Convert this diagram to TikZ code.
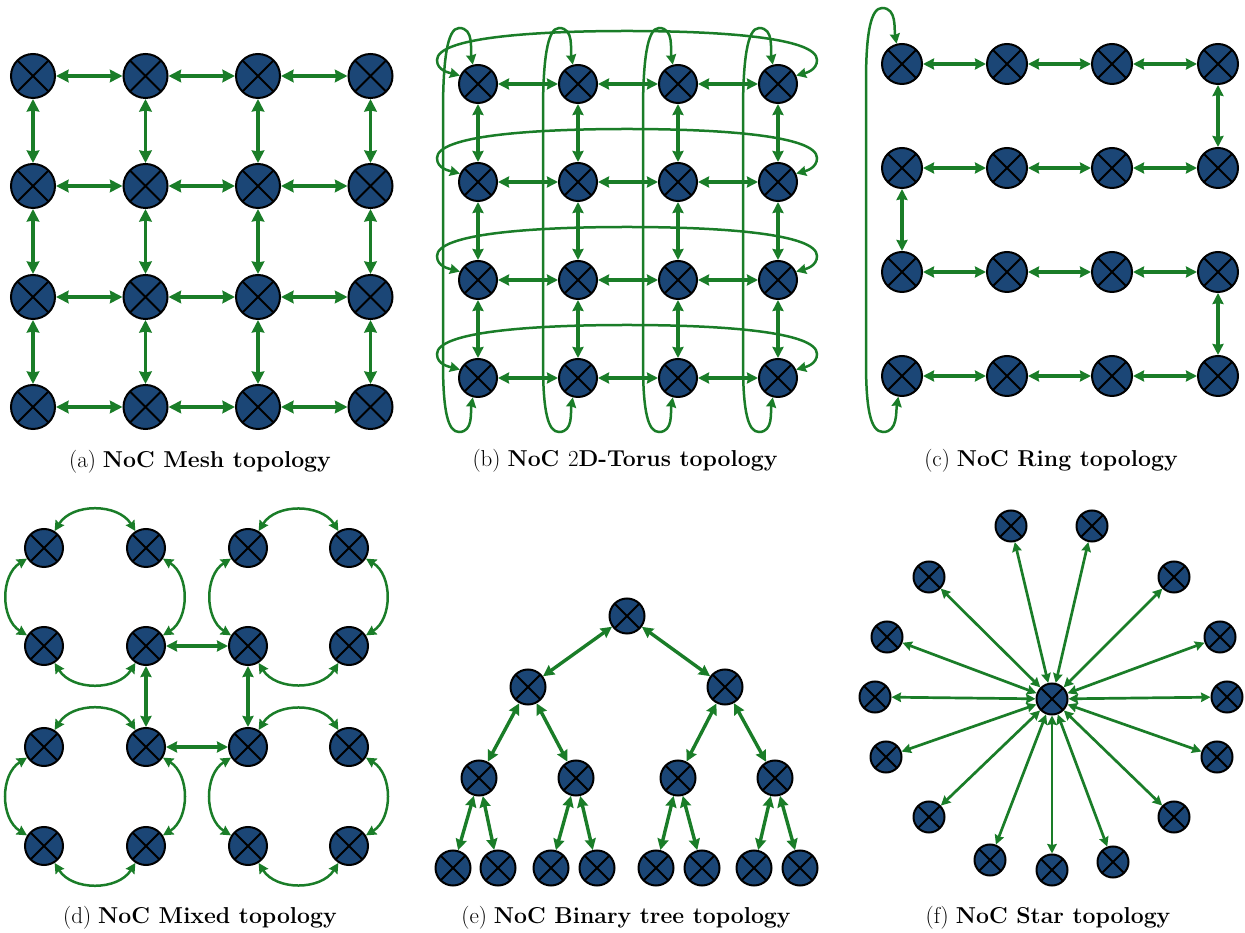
\documentclass[tikz,border=0pt]{standalone}
\usetikzlibrary{arrows.meta,calc}
\definecolor{nocblue}{RGB}{27,70,118}
\definecolor{nocgreen}{RGB}{26,125,40}
\begin{document}
\begin{tikzpicture}[x=1pt,y=1pt,
  router/.style={circle, draw=black, line width=2pt, fill=nocblue, inner sep=0pt, minimum size=#1,
    path picture={\draw[black,line width=2pt]
      (path picture bounding box.north west) -- (path picture bounding box.south east)
      (path picture bounding box.north east) -- (path picture bounding box.south west);}},
  thicklink/.style={draw=nocgreen, line width=3.8pt,
    {Stealth[length=12.5pt,width=12.5pt,inset=1pt]}-{Stealth[length=12.5pt,width=12.5pt,inset=1pt]}},
  midlink/.style={draw=nocgreen, line width=3.4pt,
    {Stealth[length=11pt,width=11pt,inset=1pt]}-{Stealth[length=11pt,width=11pt,inset=1pt]}},
  looplink/.style={draw=nocgreen, line width=2.5pt,
    {Stealth[length=10pt,width=10pt,inset=1pt]}-{Stealth[length=10pt,width=10pt,inset=1pt]}},
  starlink/.style={draw=nocgreen, line width=2.7pt,
    {Stealth[length=9.5pt,width=9.5pt,inset=1pt]}-{Stealth[length=9.5pt,width=9.5pt,inset=1pt]}},
  caption/.style={anchor=base, inner sep=0pt, font=\fontsize{23}{27}\selectfont}
]
\useasboundingbox (0,0) rectangle (1245,932);

% ---------------- (a) Mesh ----------------
\foreach \x [count=\i] in {33,145.5,258,370.5}
  \foreach \y [count=\j] in {856,746,635,525}
    \node[router=44pt] (m\j\i) at (\x,\y) {};
\foreach \j in {1,...,4}
  \foreach \i/\k in {1/2,2/3,3/4} {
    \draw[thicklink] (m\j\i) -- (m\j\k);
    \draw[thicklink] (m\i\j) -- (m\k\j);
  }
\node[caption] (capa) at (200,464) {(a) \textbf{NoC Mesh topology}};

% ---------------- (b) 2D Torus ----------------
\foreach \x [count=\i] in {478,578,678,778}
  \foreach \y [count=\j] in {848,750,652,554}
    \node[router=38pt] (t\j\i) at (\x,\y) {};
\foreach \j in {1,...,4}
  \foreach \i/\k in {1/2,2/3,3/4} {
    \draw[midlink] (t\j\i) -- (t\j\k);
    \draw[midlink] (t\i\j) -- (t\k\j);
  }
\foreach \y [count=\j] in {848,750,652,554}
  \draw[looplink] (t\j1.155) to[out=165,in=-90] (437,\y+24)
     .. controls (437,\y+46) and (530,\y+53) .. (627,\y+53)
     .. controls (724,\y+53) and (817,\y+46) .. (817,\y+24)
     to[out=-90,in=15] (t\j4.25);
\foreach \x [count=\i] in {478,578,678,778}
  \draw[looplink] (t1\i.105) to[out=100,in=0] (\x-19,904)
     .. controls (\x-31,904) and (\x-35,870) .. (\x-35,820)
     -- (\x-35,570)
     .. controls (\x-35,520) and (\x-30,500) .. (\x-19,500)
     to[out=0,in=-100] (t4\i.-105);
\node[caption] (capb) at (625,465) {(b) \textbf{NoC }2\textbf{D-Torus topology}};

% ---------------- (c) Ring ----------------
\foreach \x [count=\i] in {902,1007,1112,1218}
  \foreach \y [count=\j] in {868,764,660,556}
    \node[router=40pt] (r\j\i) at (\x,\y) {};
\foreach \j in {1,...,4}
  \foreach \i/\k in {1/2,2/3,3/4}
    \draw[midlink] (r\j\i) -- (r\j\k);
\draw[midlink] (r14) -- (r24);
\draw[midlink] (r21) -- (r31);
\draw[midlink] (r34) -- (r44);
\draw[looplink] (r41.260) to[out=-100,in=0] (883,500)
   .. controls (870,500) and (866,525) .. (866,570)
   -- (866,850)
   .. controls (866,900) and (871,924) .. (882,924)
   to[out=0,in=100] (r11.105);
\node[caption] (capc) at (1051,465) {(c) \textbf{NoC Ring topology}};

% ---------------- (d) Mixed ----------------
\foreach \x [count=\i] in {44,146,248,349}
  \foreach \y [count=\j] in {384,286,185,86}
    \node[router=38pt] (x\j\i) at (\x,\y) {};
\foreach \a/\b/\c/\d in {11/12/21/22,13/14/23/24,31/32/41/42,33/34/43/44} {
  \draw[looplink] (x\a) to[bend left=58,looseness=1.05] (x\b);
  \draw[looplink] (x\b) to[bend left=58,looseness=1.05] (x\d);
  \draw[looplink] (x\d) to[bend left=58,looseness=1.05] (x\c);
  \draw[looplink] (x\c) to[bend left=58,looseness=1.05] (x\a);
}
\draw[midlink] (x22) -- (x23);
\draw[midlink] (x32) -- (x33);
\draw[midlink] (x22) -- (x32);
\draw[midlink] (x23) -- (x33);
\node[caption] (capd) at (200,9) {(d) \textbf{NoC Mixed topology}};

% ---------------- (e) Binary tree ----------------
\node[router=35pt] (b0) at (627,316) {};
\node[router=35pt] (b1) at (528,245) {};
\node[router=35pt] (b2) at (725,245) {};
\foreach \x [count=\i] in {479,576,678,775}
  \node[router=35pt] (c\i) at (\x,154) {};
\foreach \x [count=\i] in {453,498,551,597,656,702,754,800}
  \node[router=35pt] (d\i) at (\x,64) {};
\draw[midlink] (b0) -- (b1);
\draw[midlink] (b0) -- (b2);
\draw[midlink] (b1) -- (c1);
\draw[midlink] (b1) -- (c2);
\draw[midlink] (b2) -- (c3);
\draw[midlink] (b2) -- (c4);
\foreach \p/\q/\r in {1/1/2,2/3/4,3/5/6,4/7/8} {
  \draw[midlink] (c\p) -- (d\q);
  \draw[midlink] (c\p) -- (d\r);
}
\node[caption] (cape) at (626,9) {(e) \textbf{NoC Binary tree topology}};

% ---------------- (f) Star ----------------
\node[router=31pt] (s0) at (1052,233) {};
\foreach \x/\y [count=\i] in {1011/406,1092/406,929/355,1174/355,887/295,1220/295,
    875/235,1227/235,886/175,1217/175,929/115,1174/115,990/72,1052/62,1113/70} {
  \node[router=31pt] (s\i) at (\x,\y) {};
  \draw[starlink] (s0) -- (s\i);
}
\node[caption] (capf) at (1048,9) {(f) \textbf{NoC Star topology}};
\end{tikzpicture}
\end{document}
